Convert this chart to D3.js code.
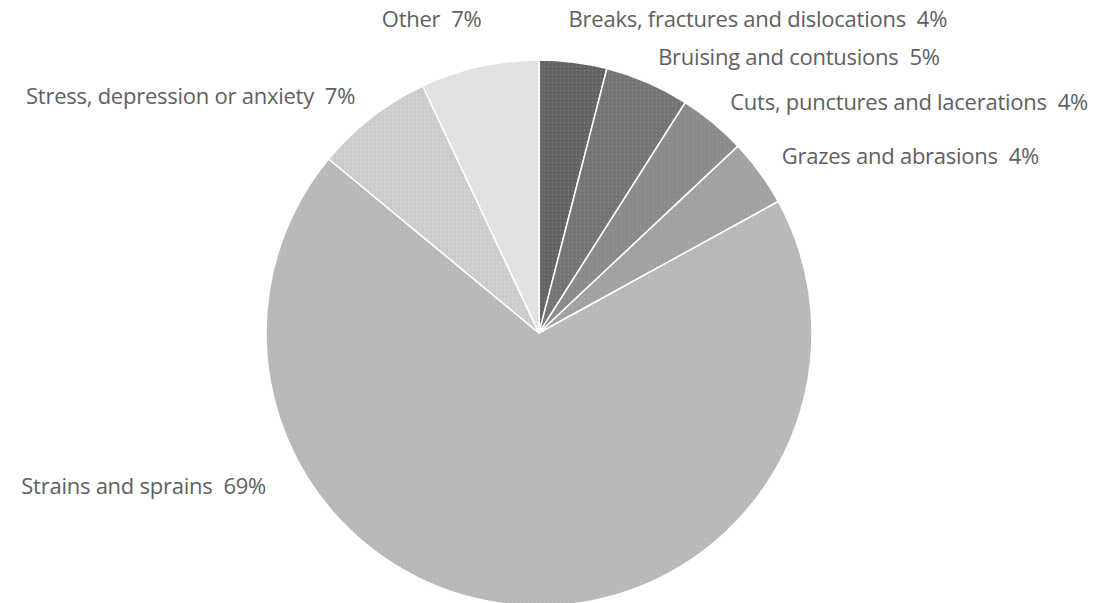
<!DOCTYPE html>
<html>
<head>
<meta charset="utf-8">
<script src="https://cdn.jsdelivr.net/npm/d3@7"></script>
<style>
  html, body { margin: 0; padding: 0; background: #fff; }
  #chart-container { width: 1116px; height: 603px; }
</style>
</head>
<body>
<div id="chart-container"></div>
<script>
const categories = [
    'Breaks, fractures and dislocations',
    'Bruising and contusions',
    'Cuts, punctures and lacerations',
    'Grazes and abrasions',
    'Strains and sprains',
    'Stress, depression or anxiety',
    'Other'
];
const shares = [4, 5, 4, 4, 69, 7, 7];
const sliceColors = ['#646464', '#757575', '#8b8b8b', '#a1a1a1', '#b8b8b8', '#cccccc', '#e1e1e1'];
const dotColors = ['#7e8e8e', '#8a9296', '#9a9aa8', '#b0b0ba', '#c4c4cc', '#dde4e6', '#eaeaf2'];

document.addEventListener('DOMContentLoaded', () => {
    const width = 1116;
    const height = 603;
    const cx = 539, cy = 333;
    const radius = 273;
    const labelRadius = 300;

    const svg = d3.select('#chart-container')
        .append('svg')
        .attr('width', width)
        .attr('height', height)
        .attr('viewBox', `0 0 ${width} ${height}`);

    // dithered-looking fills
    const defs = svg.append('defs');
    sliceColors.forEach((c, i) => {
        const p = defs.append('pattern')
            .attr('id', `fill-${i}`)
            .attr('patternUnits', 'userSpaceOnUse')
            .attr('width', 4)
            .attr('height', 4);
        p.append('rect').attr('width', 4).attr('height', 4).attr('fill', c);
        p.append('rect').attr('x', 1).attr('y', 1).attr('width', 1).attr('height', 1)
            .attr('fill', dotColors[i]);
    });

    const data = categories.map((name, i) => ({ name, value: shares[i], index: i }));

    const pie = d3.pie()
        .value(d => d.value)
        .sort(null);

    const arc = d3.arc()
        .innerRadius(0)
        .outerRadius(radius);

    const arcs = pie(data);

    const g = svg.append('g')
        .attr('transform', `translate(${cx},${cy})`);

    g.selectAll('path')
        .data(arcs)
        .enter().append('path')
        .attr('d', arc)
        .attr('fill', d => `url(#fill-${d.data.index})`)
        .attr('stroke', '#fff')
        .attr('stroke-width', 1.5)
        .attr('stroke-linejoin', 'round');

    // labels sit just outside the slice, nudged to stay on screen
    const labels = svg.append('g')
        .style('font-family', '"Open Sans", sans-serif')
        .style('font-size', '22px')
        .style('letter-spacing', '-0.25px')
        .attr('fill', '#606060');

    arcs.forEach(d => {
        const mid = (d.startAngle + d.endAngle) / 2;
        let x = cx + labelRadius * Math.sin(mid);
        let y = cy - labelRadius * Math.cos(mid);
        let anchor = Math.sin(mid) >= 0 ? 'start' : 'end';
        if (Math.cos(mid) > 0.95) {
            // labels near 12 o'clock go up to the top row
            y = 19;
            x -= Math.sign(Math.sin(mid)) * 8;
        }
        if (y > height - 20) {
            // the big slice's label goes out to the left side
            y = 486;
            x = cx - radius;
            anchor = 'end';
        }
        labels.append('text')
            .attr('x', x)
            .attr('y', y)
            .attr('dy', '0.35em')
            .attr('text-anchor', anchor)
            .attr('xml:space', 'preserve')
            .text(`${d.data.name}  ${d.data.value}%`);
    });
});
</script>
</body>
</html>
